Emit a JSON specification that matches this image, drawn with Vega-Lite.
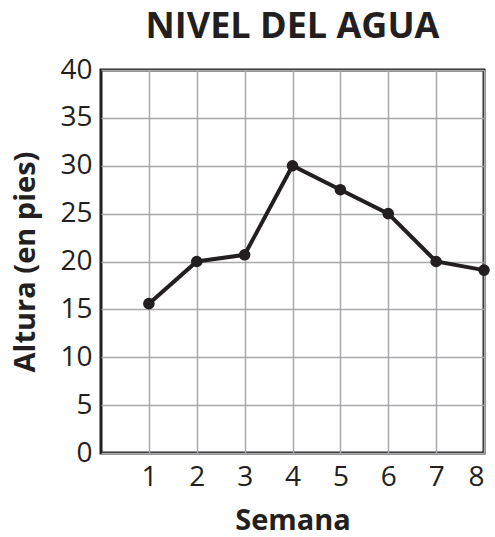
{
  "$schema": "https://vega.github.io/schema/vega-lite/v6.json",
  "width": 383,
  "height": 383,
  "autosize": {"type": "none"},
  "padding": {"left": 101, "top": 70, "right": 11, "bottom": 84},
  "background": "white",
  "title": {
    "text": "NIVEL DEL AGUA",
    "font": "Open Sans",
    "fontSize": 36,
    "fontWeight": "bold",
    "color": "#231f20",
    "anchor": "middle",
    "offset": 10
  },
  "config": {
    "view": {"stroke": "#231f20", "strokeWidth": 3},
    "font": "Open Sans",
    "axis": {
      "grid": true,
      "gridColor": "#a7a9ac",
      "gridWidth": 1.5,
      "gridOpacity": 1,
      "domain": false,
      "ticks": false,
      "labelFont": "Open Sans",
      "labelFontSize": 28,
      "labelColor": "#231f20",
      "titleFont": "Open Sans",
      "titleFontSize": 29,
      "titleFontWeight": "bold",
      "titleColor": "#231f20"
    }
  },
  "data": {
    "values": [
      {"semana": 1, "altura": 15.6},
      {"semana": 2, "altura": 20},
      {"semana": 3, "altura": 20.7},
      {"semana": 4, "altura": 30},
      {"semana": 5, "altura": 27.5},
      {"semana": 6, "altura": 25},
      {"semana": 7, "altura": 20},
      {"semana": 8, "altura": 19.1}
    ]
  },
  "encoding": {
    "x": {
      "field": "semana",
      "type": "quantitative",
      "scale": {"domain": [0, 8], "nice": false},
      "axis": {
        "title": "Semana",
        "titleBaseline": "alphabetic",
        "values": [1, 2, 3, 4, 5, 6, 7, 8],
        "labelPadding": 10,
        "titlePadding": 38
      }
    },
    "y": {
      "field": "altura",
      "type": "quantitative",
      "scale": {"domain": [0, 40], "nice": false},
      "axis": {
        "title": "Altura (en pies)",
        "values": [0, 5, 10, 15, 20, 25, 30, 35, 40],
        "labelPadding": 9,
        "titlePadding": 19
      }
    }
  },
  "layer": [
    {"mark": {"type": "line", "color": "#231f20", "strokeWidth": 4}},
    {"mark": {"type": "point", "filled": true, "color": "#231f20", "opacity": 1, "size": 135}}
  ]
}
